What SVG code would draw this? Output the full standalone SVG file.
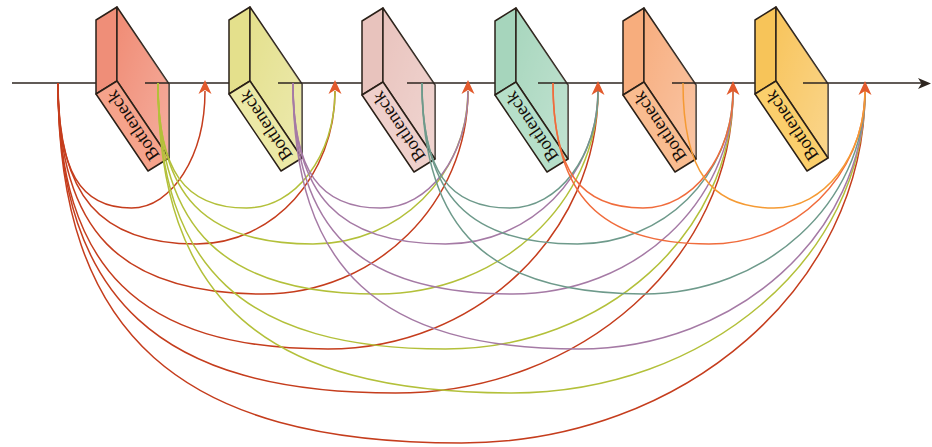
<svg xmlns="http://www.w3.org/2000/svg" xmlns:xlink="http://www.w3.org/1999/xlink" width="932" height="447" viewBox="0 0 932 447">
<defs>
  <linearGradient id="shine" x1="0" y1="0" x2="1" y2="1">
    <stop offset="0" stop-color="#ffffff" stop-opacity="0"/>
    <stop offset="1" stop-color="#ffffff" stop-opacity="0.3"/>
  </linearGradient>
  <path id="ah" d="M0,0 L6.5,14 L0,10 L-6.5,14 Z"/>
</defs>
<style>
  .face{stroke:#2a2018;stroke-width:1.5;stroke-linejoin:round}
  .ov{fill:url(#shine);stroke:none}
  .lbl{font-family:"Liberation Serif","Times New Roman",serif;font-size:18.5px;fill:#140e0a;text-anchor:middle}
  .main{stroke:#2e2620;stroke-width:1.4;fill:none}
  .c{fill:none;stroke-width:1.5}
  .red{stroke:#c53d1d}
  .grn{stroke:#b3c03a}
  .pur{stroke:#a57aa5}
  .tea{stroke:#6e9a8b}
  .ore{stroke:#f06c3c}
  .org{stroke:#f59a33}
  .arr{fill:#e25a2c}
  #b1 .strip{fill:#ef8e78} #b1 .big{fill:#f08b74} #b1 .lab{fill:#f6a38b}
  #b2 .strip{fill:#e4e08c} #b2 .big{fill:#e4e08c} #b2 .lab{fill:#ece9a6}
  #b3 .strip{fill:#e8c3bd} #b3 .big{fill:#e9c3bd} #b3 .lab{fill:#efd0cb}
  #b4 .strip{fill:#a6d5bc} #b4 .big{fill:#a7d6bd} #b4 .lab{fill:#b6dfc9}
  #b5 .strip{fill:#f7ad7d} #b5 .big{fill:#f7ad7e} #b5 .lab{fill:#f9bc90}
  #b6 .strip{fill:#f7c459} #b6 .big{fill:#f8c45b} #b6 .lab{fill:#fbcf6c}
</style>

<g id="b1" transform="translate(96,94)">
  <polygon class="face strip" points="0,0 21,-13 21,-87 0,-74"/>
  <polygon class="face big" points="21,-13 21,-87 73,-10 73,64"/>
  <polygon class="ov" points="21,-13 21,-87 73,-10 73,64"/>
  <polygon class="face lab" points="0,0 21,-13 73,64 52,77"/>
  <text class="lbl" transform="translate(36.5,32) rotate(-124)" y="6.5">Bottleneck</text>
</g>
<g id="b2" transform="translate(229,94)">
  <polygon class="face strip" points="0,0 21,-13 21,-87 0,-74"/>
  <polygon class="face big" points="21,-13 21,-87 73,-10 73,64"/>
  <polygon class="ov" points="21,-13 21,-87 73,-10 73,64"/>
  <polygon class="face lab" points="0,0 21,-13 73,64 52,77"/>
  <text class="lbl" transform="translate(36.5,32) rotate(-124)" y="6.5">Bottleneck</text>
</g>
<g id="b3" transform="translate(362,95)">
  <polygon class="face strip" points="0,0 21,-13 21,-87 0,-74"/>
  <polygon class="face big" points="21,-13 21,-87 73,-10 73,64"/>
  <polygon class="ov" points="21,-13 21,-87 73,-10 73,64"/>
  <polygon class="face lab" points="0,0 21,-13 73,64 52,77"/>
  <text class="lbl" transform="translate(36.5,32) rotate(-124)" y="6.5">Bottleneck</text>
</g>
<g id="b4" transform="translate(495,95)">
  <polygon class="face strip" points="0,0 21,-13 21,-87 0,-74"/>
  <polygon class="face big" points="21,-13 21,-87 73,-10 73,64"/>
  <polygon class="ov" points="21,-13 21,-87 73,-10 73,64"/>
  <polygon class="face lab" points="0,0 21,-13 73,64 52,77"/>
  <text class="lbl" transform="translate(36.5,32) rotate(-124)" y="6.5">Bottleneck</text>
</g>
<g id="b5" transform="translate(623,95)">
  <polygon class="face strip" points="0,0 21,-13 21,-87 0,-74"/>
  <polygon class="face big" points="21,-13 21,-87 73,-10 73,64"/>
  <polygon class="ov" points="21,-13 21,-87 73,-10 73,64"/>
  <polygon class="face lab" points="0,0 21,-13 73,64 52,77"/>
  <text class="lbl" transform="translate(36.5,32) rotate(-124)" y="6.5">Bottleneck</text>
</g>
<g id="b6" transform="translate(755,94)">
  <polygon class="face strip" points="0,0 21,-13 21,-87 0,-74"/>
  <polygon class="face big" points="21,-13 21,-87 73,-10 73,64"/>
  <polygon class="ov" points="21,-13 21,-87 73,-10 73,64"/>
  <polygon class="face lab" points="0,0 21,-13 73,64 52,77"/>
  <text class="lbl" transform="translate(36.5,32) rotate(-124)" y="6.5">Bottleneck</text>
</g>

<g id="connectors">
  <g id="mainline">
    <path class="main" d="M12,83 H96 M145,83 H229 M278,83 H362 M407,83 H495 M538,83 H623 M672,83 H755 M803,83 H922"/>
    <path d="M931,83.5 L918,78 L921.5,83.5 L918,89 Z" fill="#2e2620"/>
  </g>
  <g id="red">
    <path class="c red" d="M58,83 C58,170.5 80,208 131.5,208 C172.1,208 205,155.6 205,91"/>
    <path class="c red" d="M58,83 C58,195.7 99.6,244 196.5,244 C273,244 335,175.5 335,91"/>
    <path class="c red" d="M58,83 C58,230.7 119.5,294 263,294 C376.2,294 468,203.1 468,91"/>
    <path class="c red" d="M58,83 C58,269.2 139,349 328,349 C477,349 598,233.4 598,91"/>
    <path class="c red" d="M58,83 C58,300 159.3,393 395.5,393 C581.8,393 733,257.7 733,91"/>
    <path class="c red" d="M58,83 C58,335 179,443 461.5,443 C684.2,443 865,285.3 865,91"/>
  </g>
  <g id="green">
    <path class="c grn" d="M158,83 C158,170.5 184.6,208 246.5,208 C295.4,208 335,155.6 335,91"/>
    <path class="c grn" d="M158,83 C158,195.7 204.5,244 313,244 C398.6,244 468,175.5 468,91"/>
    <path class="c grn" d="M158,83 C158,230.7 224,294 378,294 C499.4,294 598,203.1 598,91"/>
    <path class="c grn" d="M158,83 C158,269.2 244.3,349 445.5,349 C604.2,349 733,233.4 733,91"/>
    <path class="c grn" d="M158,83 C158,300 264,393 511.5,393 C706.6,393 865,257.7 865,91"/>
  </g>
  <g id="purple">
    <path class="c pur" d="M293,83 C293,170.5 319.3,208 380.5,208 C428.8,208 468,155.6 468,91"/>
    <path class="c pur" d="M293,83 C293,195.7 338.8,244 445.5,244 C529.7,244 598,175.5 598,91"/>
    <path class="c pur" d="M293,83 C293,230.7 359,294 513,294 C634.4,294 733,203.1 733,91"/>
    <path class="c pur" d="M293,83 C293,269.2 378.8,349 579,349 C736.9,349 865,233.4 865,91"/>
  </g>
  <g id="teal">
    <path class="c tea" d="M422,83 C422,170.5 448.4,208 510,208 C558.6,208 598,155.6 598,91"/>
    <path class="c tea" d="M422,83 C422,195.7 468.7,244 577.5,244 C663.3,244 733,175.5 733,91"/>
    <path class="c tea" d="M422,83 C422,230.7 488.5,294 643.5,294 C765.8,294 865,203.1 865,91"/>
  </g>
  <g id="orangered">
    <path class="c ore" d="M553,83 C553,170.5 580,208 643,208 C692.7,208 733,155.6 733,91"/>
    <path class="c ore" d="M553,83 C553,195.7 599.8,244 709,244 C795.1,244 865,175.5 865,91"/>
  </g>
  <g id="orange">
    <path class="c org" d="M683,83 C683,170.5 710.3,208 774,208 C824.2,208 865,155.6 865,91"/>
  </g>
  <g id="arrowheads" class="arr">
    <use xlink:href="#ah" href="#ah" x="205" y="80"/>
    <use xlink:href="#ah" href="#ah" x="335" y="80"/>
    <use xlink:href="#ah" href="#ah" x="468" y="80"/>
    <use xlink:href="#ah" href="#ah" x="598" y="81"/>
    <use xlink:href="#ah" href="#ah" x="733" y="81"/>
    <use xlink:href="#ah" href="#ah" x="865" y="81"/>
  </g>
</g>
</svg>
